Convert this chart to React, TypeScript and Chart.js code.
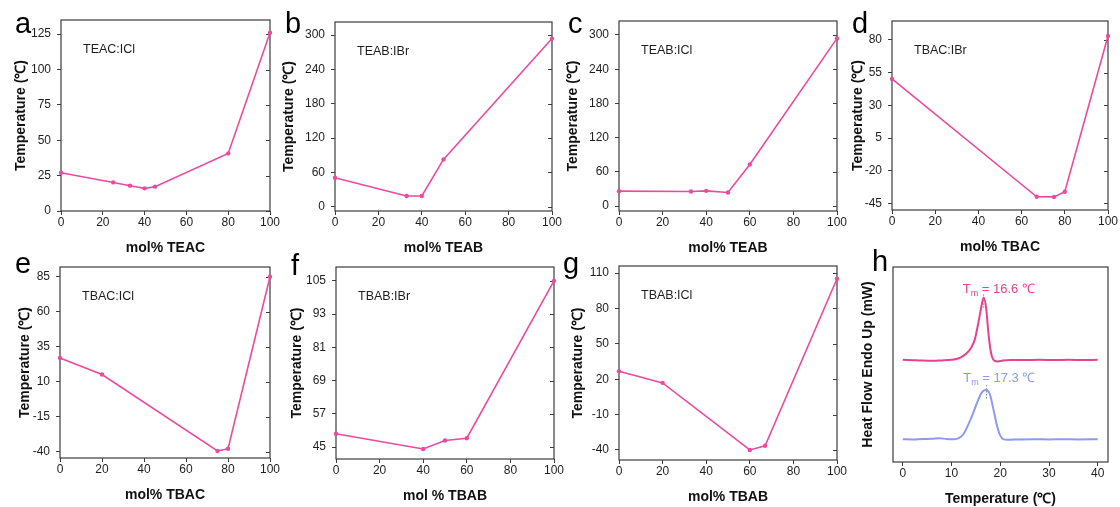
import React, { useEffect, useRef } from "react";
import { Chart, registerables } from "chart.js";
Chart.register(...registerables);

Chart.defaults.font.family = "'Liberation Sans', Arial, sans-serif";

// ---------- DATA ----------
const aX = [0, 25, 33, 40, 45, 80, 100];
const aY = [27, 20.2, 17.9, 16, 17.2, 40.7, 126];
const bX = [0, 33, 40, 50, 100];
const bY = [50.6, 18.7, 18.7, 82.7, 294];
const cX = [0, 33, 40, 50, 60, 100];
const cY = [26.3, 25.7, 26.8, 24, 73, 294];
const dX = [0, 67, 75, 80, 100];
const dY = [50.2, -39.9, -40, -36, 83];
const eX = [0, 20, 75, 80, 100];
const eY = [27, 15.2, -39.5, -37.9, 85];
const fX = [0, 40, 50, 60, 100];
const fY = [49.8, 44.3, 47.4, 48.2, 105];
const gX = [0, 20, 60, 67, 100];
const gY = [26.8, 16.9, -40, -36.4, 105.2];

const aTicks = [0, 25, 50, 75, 100, 125];
const bTicks = [0, 60, 120, 180, 240, 300];
const cTicks = [0, 60, 120, 180, 240, 300];
const dTicks = [-45, -20, 5, 30, 55, 80];
const eTicks = [-40, -15, 10, 35, 60, 85];
const fTicks = [45, 57, 69, 81, 93, 105];
const gTicks = [-40, -10, 20, 50, 80, 110];
const molTicks = [0, 20, 40, 60, 80, 100];

const hX = [0, 10, 20, 30, 40];
const hPinkX = [0, 2, 4, 6, 8, 10, 11, 12, 13, 14, 14.8, 15.4, 16, 16.6, 17.1, 17.5, 17.9, 18.3, 18.8, 19.5, 20.5, 22, 25, 28, 31, 34, 37, 40];
const hPinkY = [52.4, 52.2, 52.0, 51.9, 52.1, 52.4, 52.8, 53.8, 55.5, 58.5, 63, 70, 78, 84.3, 79, 68, 59, 54, 52, 51.6, 52.0, 52.3, 52.3, 52.4, 52.3, 52.4, 52.3, 52.4];
const hBlueX = [0, 2, 4, 6, 7.5, 9, 10.5, 11.5, 12.5, 13.5, 14.5, 15.5, 16.3, 17.1, 17.9, 18.6, 19.3, 20, 20.7, 21.5, 24, 27, 30, 33, 36, 40];
const hBlueY = [11.7, 11.6, 11.8, 11.9, 12.2, 11.8, 11.7, 12.2, 14.5, 19.5, 25.5, 32, 36, 37.1, 34.5, 27, 19, 13.5, 11.6, 11.4, 11.6, 11.7, 11.6, 11.7, 11.6, 11.7];
const hPeaks = [16.6, 17.2];
const hNoteVals = ["16.6", "17.3"];

const panelLetters = ["a", "b", "c", "d", "e", "f", "g", "h"];
const systemLabels = ["TEAC:ICl", "TEAB:IBr", "TEAB:ICl", "TBAC:IBr", "TBAC:ICl", "TBAB:IBr", "TBAB:ICl"];
const xTitles = ["mol% TEAC", "mol% TEAB", "mol% TEAB", "mol% TBAC", "mol% TBAC", "mol % TBAB", "mol% TBAB"];

// ---------- STYLE / LAYOUT ----------
const PINK = "#eb4b9e";
const PINK_H = "#e8418f";
const BLUE = "#8a9bf0";
const AXIS = "#3c3c3c";
const TXT = "#1e1e1e";

const YW = 56, XH = 50, PT = 12, PR = 14;

const boxes = [
  { L: 61, T: 20, R: 270, B: 211, yMin: 0, yMax: 135, tOff: 40.3 },
  { L: 335, T: 22, R: 552, B: 211, yMin: -7.5, yMax: 323, tOff: 45.7 },
  { L: 619, T: 21, R: 837, B: 211, yMin: -8.5, yMax: 324.5, tOff: 46.3 },
  { L: 892, T: 21, R: 1108, B: 210, yMin: -50, yMax: 94.5, tOff: 33.7 },
  { L: 60, T: 267, R: 270, B: 458, yMin: -44.5, yMax: 92, tOff: 35 },
  { L: 336, T: 267, R: 554, B: 459, yMin: 40.7, yMax: 110, tOff: 39.3 },
  { L: 619, T: 266, R: 837, B: 460, yMin: -48.5, yMax: 116, tOff: 40.7 },
];
const hBox = { L: 893, T: 267, R: 1108, B: 462, tOff: 25 };

const letterPos = [
  [15, 33], [285, 33], [568, 33], [852, 33],
  [15, 273], [291, 275], [563, 273], [872, 271],
];

const toPts = (xs: number[], ys: number[]) => xs.map((x, i) => ({ x, y: ys[i] }));

const framePlugin = {
  id: "frame",
  beforeDatasetsDraw(chart: any, _args: any, opts: any) {
    const { ctx, chartArea: ca } = chart;
    ctx.save();
    ctx.strokeStyle = AXIS;
    ctx.lineWidth = 1.2;
    ctx.strokeRect(ca.left, ca.top, ca.right - ca.left, ca.bottom - ca.top);
    if (opts.mirror) {
      const ys = chart.scales.y;
      ctx.lineWidth = 1;
      for (const t of ys.ticks) {
        const py = Math.round(ys.getPixelForValue(t.value)) + 0.5;
        ctx.beginPath();
        ctx.moveTo(ca.right, py);
        ctx.lineTo(ca.right - 4, py);
        ctx.stroke();
      }
    }
    if (opts.label) {
      ctx.fillStyle = TXT;
      ctx.font = "12.5px 'Liberation Sans', Arial, sans-serif";
      ctx.textBaseline = "middle";
      ctx.textAlign = "left";
      ctx.fillText(opts.label, ca.left + 22, ca.top + 30);
    }
    ctx.restore();
  },
  afterDatasetsDraw(chart: any, _args: any, opts: any) {
    if (!opts.notes) return;
    const { ctx } = chart;
    const xs = chart.scales.x, ys = chart.scales.y;
    ctx.save();
    for (const n of opts.notes) {
      ctx.strokeStyle = "#888";
      ctx.lineWidth = 1;
      ctx.setLineDash([1.5, 1.5]);
      const px = xs.getPixelForValue(n.peak);
      ctx.beginPath();
      ctx.moveTo(px, ys.getPixelForValue(n.lineTop));
      ctx.lineTo(px, ys.getPixelForValue(n.lineBottom));
      ctx.stroke();
      ctx.setLineDash([]);
      const bx = xs.getPixelForValue(n.tx);
      const by = ys.getPixelForValue(n.ty);
      ctx.fillStyle = n.color;
      ctx.textBaseline = "alphabetic";
      ctx.textAlign = "left";
      ctx.font = "13px 'Liberation Sans', Arial, sans-serif";
      ctx.fillText("T", bx, by);
      let cx = bx + ctx.measureText("T").width;
      ctx.font = "9px 'Liberation Sans', Arial, sans-serif";
      ctx.fillText("m", cx, by + 3);
      cx += ctx.measureText("m").width;
      ctx.font = "13px 'Liberation Sans', Arial, sans-serif";
      ctx.fillText(" = " + n.value + " \u2103", cx, by);
    }
    ctx.restore();
  },
};

function makeScale(min: number, max: number, ticks: number[] | null, title: string, horizontal: boolean, tOff: number) {
  const tickFont = { size: 12 };
  const s: any = {
    type: "linear",
    min,
    max,
    border: { display: false },
    grid: {
      display: !!ticks,
      drawOnChartArea: false,
      drawTicks: true,
      tickLength: 4,
      color: AXIS,
      lineWidth: 1,
    },
    ticks: {
      display: !!ticks,
      color: TXT,
      font: tickFont,
      padding: horizontal ? 0 : 6,
      maxRotation: 0,
      autoSkip: false,
      callback: (v: any) => String(v),
    },
    title: {
      display: true,
      text: title,
      color: "#111",
      font: { size: 14, weight: "bold" },
      padding: horizontal ? { top: 0, bottom: XH - 37 - 8.4 } : { top: YW - tOff - 8.4, bottom: 0 },
    },
    afterFit: (sc: any) => {
      if (horizontal) {
        sc.height = XH;
        sc.paddingLeft = 0;
        sc.paddingRight = 0;
      } else {
        sc.width = YW;
        sc.paddingTop = 0;
        sc.paddingBottom = 0;
      }
    },
  };
  if (ticks) {
    s.afterBuildTicks = (sc: any) => {
      sc.ticks = ticks.map((v) => ({ value: v }));
    };
  }
  return s;
}

function ChartCanvas({ box, config }: { box: any; config: any }) {
  const ref = useRef<HTMLCanvasElement>(null);
  const w = YW + (box.R - box.L) + PR;
  const h = PT + (box.B - box.T) + XH;
  useEffect(() => {
    const chart = new Chart(ref.current as HTMLCanvasElement, config);
    return () => chart.destroy();
  }, []);
  return (
    <canvas
      ref={ref}
      width={w}
      height={h}
      style={{ position: "absolute", left: box.L - YW, top: box.T - PT, width: w, height: h }}
    />
  );
}

const baseOptions = (scales: any, frame: any) => ({
  animation: false,
  responsive: false,
  maintainAspectRatio: false,
  layout: { padding: { left: 0, top: PT, right: PR, bottom: 0 } },
  plugins: { legend: { display: false }, tooltip: { enabled: false }, frame },
  scales,
});

const seriesX = [aX, bX, cX, dX, eX, fX, gX];
const seriesY = [aY, bY, cY, dY, eY, fY, gY];
const seriesTicks = [aTicks, bTicks, cTicks, dTicks, eTicks, fTicks, gTicks];

function phaseConfig(i: number) {
  const b = boxes[i];
  return {
    type: "line",
    data: {
      datasets: [
        {
          data: toPts(seriesX[i], seriesY[i]),
          borderColor: PINK,
          backgroundColor: PINK,
          borderWidth: 1.6,
          pointRadius: 2.2,
          pointBorderWidth: 0,
          pointBackgroundColor: PINK,
          tension: 0,
          clip: false,
        },
      ],
    },
    options: baseOptions(
      {
        x: makeScale(0, 100, molTicks, xTitles[i], true, 0),
        y: makeScale(b.yMin, b.yMax, seriesTicks[i], "Temperature (\u2103)", false, b.tOff),
      },
      { mirror: true, label: systemLabels[i] }
    ),
    plugins: [framePlugin],
  };
}

function dscConfig() {
  return {
    type: "line",
    data: {
      datasets: [
        {
          data: toPts(hPinkX, hPinkY),
          borderColor: PINK_H,
          borderWidth: 2,
          pointRadius: 0,
          tension: 0.4,
          cubicInterpolationMode: "monotone",
        },
        {
          data: toPts(hBlueX, hBlueY),
          borderColor: BLUE,
          borderWidth: 2,
          pointRadius: 0,
          tension: 0.4,
          cubicInterpolationMode: "monotone",
        },
      ],
    },
    options: baseOptions(
      {
        x: makeScale(-2, 42.1, hX, "Temperature (\u2103)", true, 0),
        y: makeScale(0, 100, null, "Heat Flow Endo Up (mW)", false, hBox.tOff),
      },
      {
        mirror: false,
        notes: [
          { peak: hPeaks[0], lineTop: 86, lineBottom: 79, tx: 12.3, ty: 86.7, value: hNoteVals[0], color: PINK_H },
          { peak: hPeaks[1], lineTop: 39.5, lineBottom: 32, tx: 12.4, ty: 41, value: hNoteVals[1], color: BLUE },
        ],
      }
    ),
    plugins: [framePlugin],
  };
}

export default function App() {
  return (
    <div
      style={{
        position: "absolute",
        left: 0,
        top: 0,
        width: 1120,
        height: 507,
        background: "#ffffff",
        overflow: "hidden",
      }}
    >
      {boxes.map((b, i) => (
        <ChartCanvas key={i} box={b} config={phaseConfig(i)} />
      ))}
      <ChartCanvas box={hBox} config={dscConfig()} />
      {panelLetters.map((l, i) => (
        <div
          key={l}
          style={{
            position: "absolute",
            left: letterPos[i][0],
            top: letterPos[i][1] - 24.5,
            fontFamily: "'Liberation Sans', Arial, sans-serif",
            fontSize: 29,
            lineHeight: "29px",
            color: "#000",
          }}
        >
          {l}
        </div>
      ))}
    </div>
  );
}
